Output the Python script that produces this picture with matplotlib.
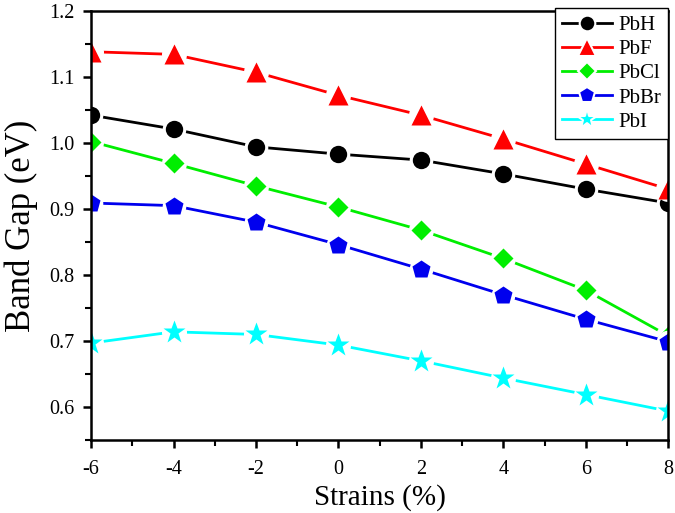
import numpy as np
import matplotlib.pyplot as plt
from matplotlib.ticker import MultipleLocator
from matplotlib.lines import Line2D

plt.rcParams["font.family"] = ["Liberation Serif", "DejaVu Serif"]
plt.rcParams["axes.unicode_minus"] = False

# Data
strain = [-6, -4, -2, 0, 2, 4, 6, 8]
pbh  = [1.042, 1.021, 0.994, 0.983, 0.974, 0.953, 0.930, 0.909]
pbf  = [1.138, 1.134, 1.107, 1.072, 1.042, 1.006, 0.968, 0.930]
pbcl = [1.002, 0.969, 0.935, 0.903, 0.868, 0.825, 0.777, 0.708]
pbbr = [0.909, 0.905, 0.880, 0.846, 0.809, 0.770, 0.733, 0.699]
pbi  = [0.697, 0.714, 0.710, 0.694, 0.670, 0.644, 0.619, 0.594]

# name, values, colour, marker, marker size, size of the white gap behind it
series = [
    ("PbH",  pbh,  "black",   "o", 12.5, 17),
    ("PbF",  pbf,  "#ff0000", "^", 15,   18),
    ("PbCl", pbcl, "#00ee00", "D", 10,   18),
    ("PbBr", pbbr, "#0000ee", "p", 13.5, 17),
    ("PbI",  pbi,  "#00ffff", "*", 17,   18),
]

fig = plt.figure(figsize=(6.75, 5.13), dpi=100)
ax = fig.add_axes([0.135, 0.142, 0.855, 0.837])

handles = []
for i, (name, vals, col, mk, ms, gap) in enumerate(series):
    z = 2 + i * 3
    ax.plot(strain, vals, color=col, lw=2, zorder=z)
    ax.plot(strain, vals, ls="none", marker="o", markersize=gap,
            markerfacecolor="white", markeredgecolor="none", zorder=z + 1)
    ax.plot(strain, vals, ls="none", marker=mk, markersize=ms,
            markerfacecolor=col, markeredgecolor="none", zorder=z + 2)
    handles.append(Line2D([], [], color=col, lw=2, marker=mk, markersize=ms * 0.9,
                          markerfacecolor=col, markeredgecolor="white",
                          markeredgewidth=1.5, label=name))

ax.set_xlim(-6, 8)
ax.set_ylim(0.55, 1.2)
ax.set_xticks([-6, -4, -2, 0, 2, 4, 6, 8])
ax.set_yticks([0.6, 0.7, 0.8, 0.9, 1.0, 1.1, 1.2])
ax.xaxis.set_minor_locator(MultipleLocator(1))
ax.yaxis.set_minor_locator(MultipleLocator(0.05))

ax.tick_params(which="major", direction="out", length=6, width=1.8,
               labelsize=14.5, top=False, right=False)
ax.tick_params(axis="x", which="major", pad=8)
ax.tick_params(axis="y", which="major", pad=6)
ax.tick_params(which="minor", direction="out", length=4, width=1.5,
               top=False, right=False)
for s in ax.spines.values():
    s.set_linewidth(1.8)
    s.set_zorder(30)

ax.set_xlabel("Strains (%)", fontsize=21, labelpad=4)
ax.set_ylabel("Band Gap (eV)", fontsize=25, labelpad=8)

leg = ax.legend(handles=handles, loc="upper right", bbox_to_anchor=(1.0, 1.006),
                borderaxespad=0, fontsize=15, frameon=True, fancybox=False,
                edgecolor="black", handlelength=2.4, labelspacing=0.22,
                handletextpad=0.3, borderpad=0.35, framealpha=1)
leg.get_frame().set_linewidth(1.0)
leg.set_zorder(40)

plt.savefig("out.png", dpi=100)
